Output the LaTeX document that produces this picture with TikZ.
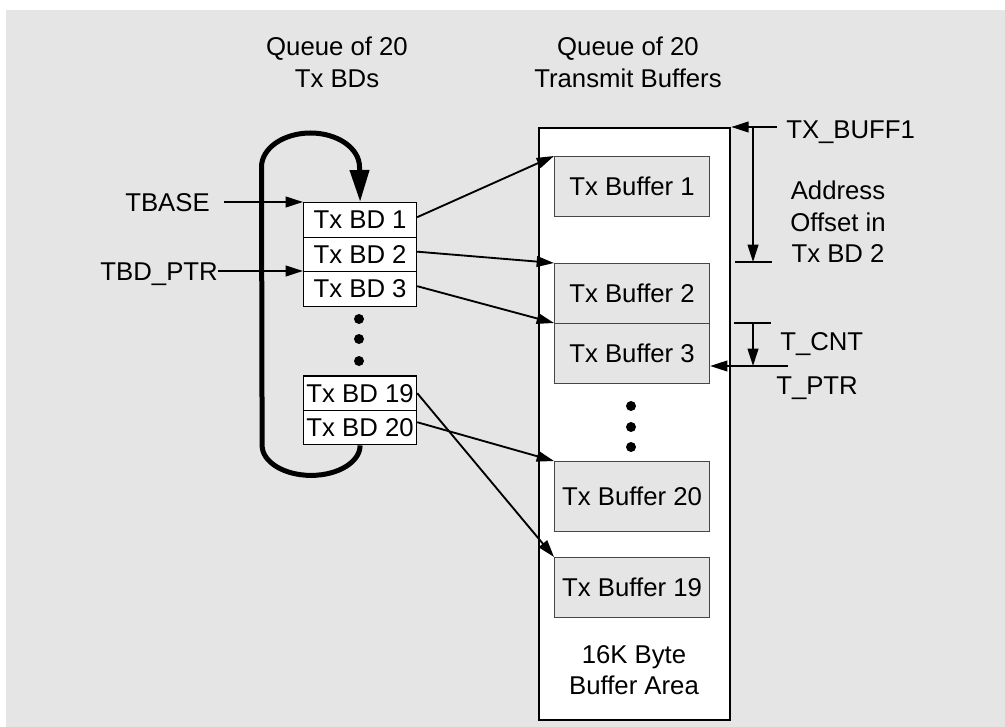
\documentclass[tikz,border=0pt]{standalone}
\usepackage{fontspec}
\setmainfont{Liberation Sans}
\usetikzlibrary{arrows.meta}
\definecolor{bg}{RGB}{229,229,229}
\definecolor{edge}{RGB}{70,70,70}
\begin{document}
\begin{tikzpicture}[x=0.75pt,y=-0.75pt,
  every node/.style={font=\fontsize{19.3}{23.6}\selectfont, inner sep=0pt},
  lbl/.style={align=center},
  bdbox/.style={draw, fill=white, line width=0.9pt, minimum width=84.75pt, minimum height=25.875pt, anchor=north west},
  bufbox/.style={draw=edge, fill=bg, line width=0.8pt, minimum width=116.25pt, minimum height=45pt, anchor=north west},
  conn/.style={line width=1.4pt, -{Triangle[length=13pt,width=8pt]}},
  plain/.style={line width=1.4pt},
  looparrow/.style={line width=3.75pt, -{Triangle[length=24pt,width=14pt]}},
  dot/.style={fill=black}
]
\useasboundingbox (0,0) rectangle (1005,727);
\fill[white] (0,0) rectangle (1005,727);
\fill[bg] (6,10) rectangle (1005,727);

% titles
\node[lbl] (q1) at (337,62.5) {Queue of 20\\Tx BDs};
\node[lbl] (q2) at (628,62.5) {Queue of 20\\Transmit Buffers};

% buffer area
\node[draw, fill=white, line width=1.7pt, minimum width=143.25pt, minimum height=444pt, anchor=north west] (area) at (538,127) {};
\node[lbl] (area16) at (634,670) {16K Byte\\Buffer Area};

% buffers
\node[bufbox] (buf1) at (554,156) {Tx Buffer 1};
\node[bufbox] (buf2) at (554,263) {Tx Buffer 2};
\node[bufbox] (buf3) at (554,323) {Tx Buffer 3};
\node[bufbox, minimum height=52.5pt] (buf20) at (554,461) {Tx Buffer 20};
\node[bufbox] (buf19) at (554,557) {Tx Buffer 19};
\fill[dot] (631,406) circle[radius=5];
\fill[dot] (631,427) circle[radius=5];
\fill[dot] (631,447) circle[radius=5];

% BDs
\node[bdbox] (bd1) at (303,202) {Tx BD 1};
\node[bdbox] (bd2) at (303,236.5) {Tx BD 2};
\node[bdbox] (bd3) at (303,271) {Tx BD 3};
\node[bdbox] (bd19) at (303,375.3) {Tx BD 19};
\node[bdbox] (bd20) at (303,409.7) {Tx BD 20};
\fill[dot] (359,319) circle[radius=5];
\fill[dot] (359,339) circle[radius=5];
\fill[dot] (359,361) circle[radius=5];

% loop
\draw[looparrow] (bd20.south) arc[start angle=0, end angle=180, x radius=49, y radius=30]
  -- (261.5,167) arc[start angle=180, end angle=360, x radius=49, y radius=34] -- (bd1.north);

% left labels
\node[anchor=base east] (tbase) at (210,211.5) {TBASE};
\node[anchor=base east] (tbdptr) at (218,280.5) {TBD\_PTR};
\draw[conn] (224,202) -- (bd1.north west);
\draw[conn] (tbdptr.east |- bd3.north west) -- (bd3.north west);

% BD -> buffer
\draw[conn] ([yshift=2pt]bd1.east) -- (buf1.north west);
\draw[conn] ([yshift=2pt]bd2.east) -- (buf2.north west);
\draw[conn] ([yshift=2pt]bd3.east) -- (buf3.north west);
\draw[conn] ([yshift=0pt]bd19.east) -- (buf19.north west);
\draw[conn] ([yshift=4pt]bd20.east) -- (buf20.north west);

% right side
\node[anchor=base west] (txbuff) at (786,139) {TX\_BUFF1};
\coordinate (c1) at (777,127);
\draw[conn] (c1) -- (area.north east);
\draw[conn] (753,127) -- (753,262);
\draw[plain] (735,262) -- (772,262);
\node[lbl] (addr) at (838,222) {Address\\Offset in\\Tx BD 2};

\draw[plain] (734,323) -- (771,323);
\draw[conn] (753,323) -- (753,366);
\coordinate (c2) at (788,366);
\draw[conn] (c2) -- (buf3.east |- c2);
\node[anchor=base west] (tcnt) at (780,350) {T\_CNT};
\node[anchor=base west] (tptr) at (776,394) {T\_PTR};
\end{tikzpicture}
\end{document}
